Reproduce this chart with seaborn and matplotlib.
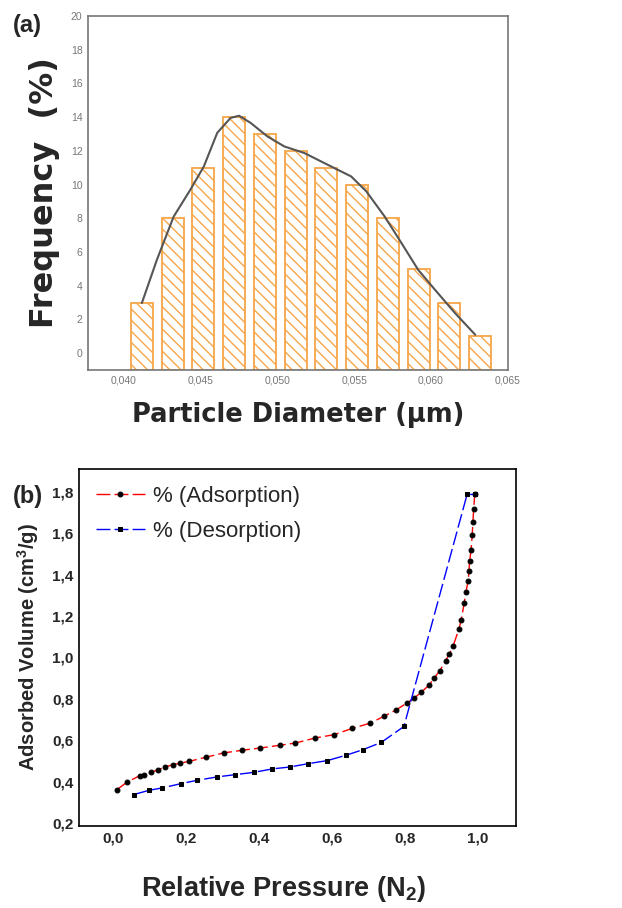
import matplotlib
matplotlib.use('Agg')
import matplotlib.pyplot as plt
from matplotlib.ticker import FuncFormatter, MultipleLocator
import pandas as pd
import seaborn as sns

# (a) particle size distribution
diam_um = [0.0412, 0.0432, 0.0452, 0.0472, 0.0492, 0.0512,
           0.0532, 0.0552, 0.0572, 0.0592, 0.0612, 0.0632]
freq_pct = [3, 8, 11, 14, 13, 12, 11, 10, 8, 5, 3, 1]

# hand-traced smooth envelope
fit_x = [0.04120, 0.04218, 0.04327, 0.04436, 0.04523, 0.04610, 0.04697,
         0.04752, 0.04828, 0.04937, 0.05046, 0.05176, 0.05329, 0.05481,
         0.05580, 0.05699, 0.05808, 0.05917, 0.06026, 0.06157, 0.06288]
fit_y = [2.97, 5.54, 8.10, 9.70, 11.07, 13.06, 13.95, 14.08, 13.65, 12.85,
         12.26, 11.87, 11.17, 10.48, 9.59, 8.10, 6.53, 4.94, 3.76, 2.37, 1.09]

# (b) N2 isotherm
ads_p = [0.011, 0.038, 0.073, 0.084, 0.105, 0.123, 0.143, 0.164, 0.185, 0.208,
         0.254, 0.303, 0.354, 0.404, 0.457, 0.500, 0.553, 0.605, 0.656, 0.705,
         0.742, 0.774, 0.805, 0.825, 0.845, 0.866, 0.879, 0.895, 0.911, 0.921,
         0.932, 0.948, 0.954, 0.962, 0.967, 0.973, 0.975, 0.977, 0.981, 0.984,
         0.986, 0.988, 0.991]
ads_v = [0.361, 0.396, 0.428, 0.433, 0.444, 0.457, 0.470, 0.481, 0.489, 0.497,
         0.517, 0.538, 0.551, 0.562, 0.575, 0.586, 0.610, 0.626, 0.657, 0.682,
         0.715, 0.744, 0.779, 0.803, 0.832, 0.866, 0.898, 0.935, 0.982, 1.015,
         1.056, 1.139, 1.181, 1.261, 1.318, 1.369, 1.417, 1.466, 1.519, 1.591,
         1.655, 1.715, 1.787]
des_p = [0.057, 0.100, 0.135, 0.187, 0.231, 0.285, 0.334, 0.385, 0.437, 0.484,
         0.534, 0.587, 0.637, 0.685, 0.735, 0.797, 0.970, 0.991]
des_v = [0.337, 0.358, 0.369, 0.390, 0.406, 0.422, 0.433, 0.444, 0.461, 0.470,
         0.486, 0.501, 0.526, 0.554, 0.589, 0.666, 1.787, 1.787]

sns.set_style('white')
plt.rcParams['font.family'] = ['Liberation Sans', 'DejaVu Sans']
plt.rcParams['mathtext.fontset'] = 'custom'
plt.rcParams['mathtext.rm'] = 'Liberation Sans'
plt.rcParams['mathtext.bf'] = 'Liberation Sans:bold'
plt.rcParams['hatch.linewidth'] = 1.0


def comma_fmt(nd):
    return FuncFormatter(lambda v, _: f'{v:.{nd}f}'.replace('.', ','))


fig = plt.figure(figsize=(6.22, 9.08), dpi=100)
ax1 = fig.add_axes([0.1415, 0.5925, 0.675, 0.390])
ax2 = fig.add_axes([0.127, 0.0903, 0.7026, 0.3932])

# ---- panel (a)
df_a = pd.DataFrame({'d': diam_um, 'f': freq_pct})
sns.barplot(data=df_a, x='d', y='f', native_scale=True, width=0.72,
            color='white', edgecolor='#f7a64a', linewidth=1.3,
            hatch='\\\\\\', ax=ax1)
ybot = -1
for p in ax1.patches:
    p.set_height(p.get_height() - ybot)
    p.set_y(ybot)
sns.lineplot(x=fit_x, y=fit_y, color='#555555', linewidth=1.5, sort=False, ax=ax1)
ax1.set_xlim(0.0377, 0.065)
ax1.set_ylim(ybot, 20)
ax1.xaxis.set_major_locator(MultipleLocator(0.005))
ax1.yaxis.set_major_locator(MultipleLocator(2))
ax1.xaxis.set_major_formatter(comma_fmt(3))
ax1.yaxis.set_major_formatter(FuncFormatter(lambda v, _: f'{v:.0f}'))
ax1.tick_params(length=0, labelsize=7.5, labelcolor='#777777', pad=4)
for s in ax1.spines.values():
    s.set_color('#777777')
    s.set_linewidth(1.2)
ax1.set_xlabel('Particle Diameter (μm)', family='DejaVu Sans', fontweight='heavy',
               fontsize=18.5, labelpad=12)
ax1.set_ylabel('Frequency  (%)', family='DejaVu Sans', fontweight='heavy',
               fontsize=23, labelpad=8)
fig.text(0.02, 0.972, '(a)', fontsize=17, fontweight='bold', va='center')

# ---- panel (b)
sns.lineplot(x=ads_p, y=ads_v, sort=False, color='red', linewidth=1.0,
             linestyle=(0, (10, 3)), marker='o', markersize=3.5,
             markerfacecolor='black', markeredgecolor='black',
             label='% (Adsorption)', ax=ax2)
sns.lineplot(x=des_p, y=des_v, sort=False, color='blue', linewidth=1.0,
             linestyle=(0, (10, 3)), marker='s', markersize=3.5,
             markerfacecolor='black', markeredgecolor='black',
             label='% (Desorption)', ax=ax2)
ax2.set_xlim(-0.093, 1.104)
ax2.set_ylim(0.185, 1.91)
ax2.xaxis.set_major_locator(MultipleLocator(0.2))
ax2.yaxis.set_major_locator(MultipleLocator(0.2))
ax2.xaxis.set_major_formatter(comma_fmt(1))
ax2.yaxis.set_major_formatter(comma_fmt(1))
ax2.tick_params(length=0, labelsize=11, pad=4)
for lbl in ax2.get_xticklabels() + ax2.get_yticklabels():
    lbl.set_fontweight('bold')
for s in ax2.spines.values():
    s.set_color('black')
    s.set_linewidth(1.2)
ax2.set_xlabel(r'Relative Pressure (N$_\mathbf{2}$)',
               fontweight='bold', fontsize=19.5)
ax2.xaxis.set_label_coords(0.467, -0.135)
ax2.set_ylabel(r'Adsorbed Volume (cm$^\mathbf{3}$/g)',
               fontweight='bold', fontsize=14.5, labelpad=8)
ax2.legend(loc='upper left', frameon=False, fontsize=16, handlelength=2.2,
           labelspacing=0.65, borderaxespad=0.35, handletextpad=0.4)
fig.text(0.02, 0.453, '(b)', fontsize=17, fontweight='bold', va='center')

fig.savefig('out.png', dpi=100)
